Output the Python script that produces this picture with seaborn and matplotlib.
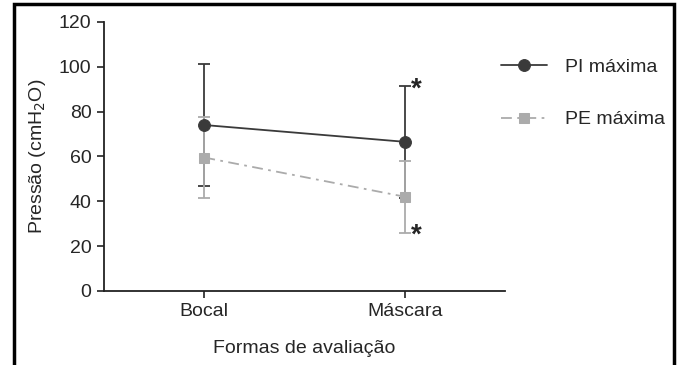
import numpy as np
import pandas as pd
import matplotlib
matplotlib.use("Agg")
import matplotlib.pyplot as plt
import seaborn as sns
from matplotlib.patches import Rectangle

# data
categories = ["Bocal", "Máscara"]
pi_mean = [74, 66.5]
pi_sd = [27, 25]
pe_mean = [59.5, 42]
pe_sd = [18, 16]

sns.set_style("ticks")
plt.rcParams['font.family'] = ['Liberation Sans', 'DejaVu Sans']

df = pd.DataFrame({
    "x": [0, 1, 0, 1],
    "y": pi_mean + pe_mean,
    "serie": ["PI máxima"] * 2 + ["PE máxima"] * 2,
})

fig = plt.figure(figsize=(6.8, 3.65), dpi=100)
ax = fig.add_axes([0.153, 0.203, 0.59, 0.737])

dark = "#3a3a3a"
light = "#ababab"

# error bars
ax.errorbar([0, 1], pi_mean, yerr=pi_sd, fmt="none", ecolor=dark, elinewidth=1.3,
            capsize=4, capthick=1.3, zorder=2)
ax.errorbar([0, 1], pe_mean, yerr=pe_sd, fmt="none", ecolor=light, elinewidth=1.3,
            capsize=4, capthick=1.3, zorder=3)

sns.lineplot(data=df[df.serie == "PI máxima"], x="x", y="y", ax=ax, color=dark,
             marker="o", markersize=8.5, markeredgecolor=dark, linewidth=1.3,
             label="PI máxima", zorder=4)
sns.lineplot(data=df[df.serie == "PE máxima"], x="x", y="y", ax=ax, color=light,
             marker="s", markersize=7.5, markeredgecolor=light, linewidth=1.3,
             linestyle=(0, (6, 3, 1.5, 3)), label="PE máxima", zorder=5)

# significance marks
ax.text(1.03, pi_mean[1] + pi_sd[1] - 1.5, "*", fontsize=20, fontweight="bold",
        va="center", ha="left")
ax.text(1.03, pe_mean[1] - pe_sd[1] - 1.5, "*", fontsize=20, fontweight="bold",
        va="center", ha="left")

ax.set_xlim(-0.5, 1.5)
ax.set_ylim(0, 120)
ax.set_yticks(np.arange(0, 121, 20))
ax.set_xticks([0, 1])
ax.set_xticklabels(categories)
ax.tick_params(labelsize=14, width=1.2, length=5, color="#222222", pad=4)
ax.set_xlabel("Formas de avaliação", fontsize=14, labelpad=14)
ax.set_ylabel("Pressão (cmH$_2$O)", fontsize=14, labelpad=8)
sns.despine(ax=ax)
for s in ["left", "bottom"]:
    ax.spines[s].set_linewidth(1.3)
    ax.spines[s].set_color("#222222")

leg = ax.legend(loc="upper left", bbox_to_anchor=(0.945, 0.93), frameon=False,
                fontsize=14, handlelength=2.4, handletextpad=0.9, labelspacing=1.8)

# figure frame
fig.patches.append(Rectangle((0.02, -0.02), 0.971, 1.01, transform=fig.transFigure,
                             fill=False, edgecolor="black", linewidth=2.5))

fig.savefig("out.png", dpi=100)
